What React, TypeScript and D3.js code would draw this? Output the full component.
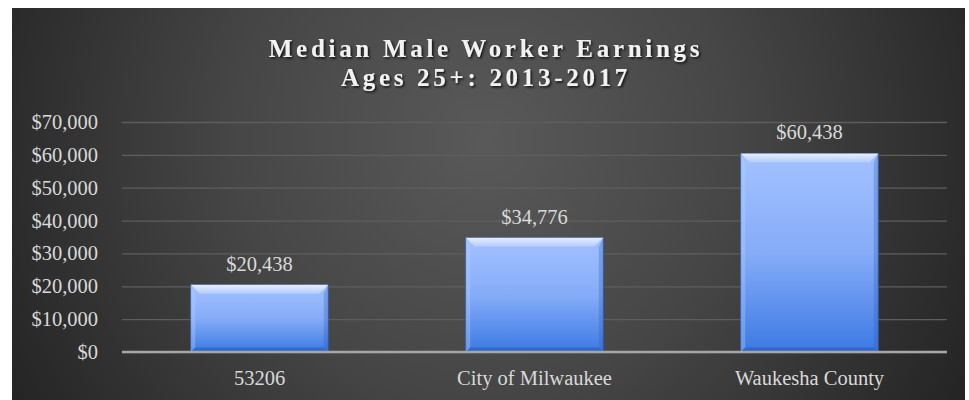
import React, { useRef, useEffect } from 'react';
import * as d3 from 'd3';

const categories = ['53206', 'City of Milwaukee', 'Waukesha County'];
const earnings = [20438, 34776, 60438];
const yTicks = [0, 10000, 20000, 30000, 40000, 50000, 60000, 70000];
const titleLines = ['Median Male Worker Earnings', 'Ages 25+: 2013-2017'];

const App = () => {
  const ref = useRef<SVGSVGElement | null>(null);

  const width = 969;
  const height = 400;

  useEffect(() => {
    if (!ref.current) return;

    const margin = { top: 122, right: 22, bottom: 48, left: 122 };
    const fmt = (v: number) => '$' + d3.format(',')(v);
    const serif = '"Liberation Serif", "Times New Roman", serif';

    const svg = d3.select(ref.current);
    svg.selectAll('*').remove();

    const defs = svg.append('defs');

    const bg = defs
      .append('radialGradient')
      .attr('id', 'bg')
      .attr('gradientUnits', 'userSpaceOnUse')
      .attr('cx', 485)
      .attr('cy', 140)
      .attr('r', 560);
    bg.append('stop').attr('offset', '0%').attr('stop-color', '#595959');
    bg.append('stop').attr('offset', '45%').attr('stop-color', '#464646');
    bg.append('stop').attr('offset', '100%').attr('stop-color', '#222222');

    const barGrad = defs
      .append('linearGradient')
      .attr('id', 'bar')
      .attr('x1', 0)
      .attr('y1', 0)
      .attr('x2', 0)
      .attr('y2', 1);
    barGrad.append('stop').attr('offset', '0%').attr('stop-color', '#a3c1ff');
    barGrad.append('stop').attr('offset', '50%').attr('stop-color', '#86acf8');
    barGrad.append('stop').attr('offset', '100%').attr('stop-color', '#3c7ae4');

    const topBevel = defs
      .append('linearGradient')
      .attr('id', 'topBevel')
      .attr('x1', 0)
      .attr('y1', 0)
      .attr('x2', 0)
      .attr('y2', 1);
    topBevel.append('stop').attr('offset', '0%').attr('stop-color', '#f2f7ff');
    topBevel.append('stop').attr('offset', '100%').attr('stop-color', '#b4ceff');

    const shadow = defs
      .append('filter')
      .attr('id', 'shadow')
      .attr('x', '-10%')
      .attr('y', '-30%')
      .attr('width', '120%')
      .attr('height', '160%');
    shadow
      .append('feDropShadow')
      .attr('dx', 1.5)
      .attr('dy', 1.5)
      .attr('stdDeviation', 1)
      .attr('flood-color', '#000')
      .attr('flood-opacity', 0.8);

    svg
      .append('rect')
      .attr('x', 12)
      .attr('y', 8)
      .attr('width', 953)
      .attr('height', 392)
      .attr('fill', 'url(#bg)');

    const title = svg
      .append('text')
      .attr('text-anchor', 'middle')
      .attr('font-family', serif)
      .attr('font-weight', 'bold')
      .attr('font-size', 25)
      .attr('letter-spacing', 3.7)
      .attr('fill', '#f2f2f2')
      .attr('filter', 'url(#shadow)');
    titleLines.forEach((t, i) =>
      title
        .append('tspan')
        .attr('x', 486)
        .attr('y', 57 + i * 29)
        .text(t)
    );

    const x = d3
      .scaleBand(categories, [margin.left, width - margin.right])
      .paddingInner(0.5)
      .paddingOuter(0.25);

    const y = d3
      .scaleLinear()
      .domain([0, 70000])
      .range([height - margin.bottom, margin.top]);

    const yAxis = svg
      .append('g')
      .attr('transform', `translate(${margin.left},0)`)
      .call(
        d3
          .axisLeft(y)
          .tickValues(yTicks)
          .tickFormat((d: any) => fmt(d))
          .tickSize(-(width - margin.left - margin.right))
          .tickPadding(24)
      );
    yAxis.select('.domain').remove();
    yAxis.selectAll('line').attr('stroke', '#5e5e5e').attr('stroke-width', 1.3);
    yAxis
      .selectAll('text')
      .attr('fill', '#d9d9d9')
      .attr('font-size', 20.5)
      .attr('font-family', serif);

    const d = 9;
    const bars = svg
      .append('g')
      .selectAll('g')
      .data(categories.map((c, i) => ({ c, v: earnings[i] })))
      .join('g');

    bars.each(function (p) {
      const g = d3.select(this);
      const bx = x(p.c) || 0;
      const bw = x.bandwidth();
      const by = y(p.v);
      const bh = y(0) - by;
      g.append('rect')
        .attr('x', bx)
        .attr('y', by)
        .attr('width', bw)
        .attr('height', bh)
        .attr('fill', 'url(#bar)')
        .attr('stroke', '#2c5aa8')
        .attr('stroke-width', 0.8);
      // bevel faces
      g.append('polygon')
        .attr(
          'points',
          [
            [bx, by],
            [bx + bw, by],
            [bx + bw - d, by + d],
            [bx + d, by + d],
          ].join(' ')
        )
        .attr('fill', 'url(#topBevel)')
        .attr('opacity', 0.85);
      g.append('polygon')
        .attr(
          'points',
          [
            [bx, by],
            [bx + d * 0.5, by + d],
            [bx + d * 0.5, by + bh - d * 0.5],
            [bx, by + bh],
          ].join(' ')
        )
        .attr('fill', '#b8d0ff')
        .attr('opacity', 0.35);
      g.append('polygon')
        .attr(
          'points',
          [
            [bx + bw, by],
            [bx + bw - d * 0.5, by + d],
            [bx + bw - d * 0.5, by + bh - d * 0.5],
            [bx + bw, by + bh],
          ].join(' ')
        )
        .attr('fill', '#2a5cb8')
        .attr('opacity', 0.3);
      g.append('polygon')
        .attr(
          'points',
          [
            [bx, by + bh],
            [bx + bw, by + bh],
            [bx + bw - d * 0.5, by + bh - d * 0.5],
            [bx + d * 0.5, by + bh - d * 0.5],
          ].join(' ')
        )
        .attr('fill', '#1f4fa8')
        .attr('opacity', 0.45);
      g.append('text')
        .attr('x', bx + bw / 2)
        .attr('y', by - 14)
        .attr('text-anchor', 'middle')
        .attr('fill', '#d9d9d9')
        .attr('font-size', 20.5)
        .attr('font-family', serif)
        .text(fmt(p.v));
    });

    svg
      .append('line')
      .attr('x1', margin.left)
      .attr('x2', width - margin.right)
      .attr('y1', y(0))
      .attr('y2', y(0))
      .attr('stroke', '#a6a6a6')
      .attr('stroke-width', 2.5);

    svg
      .append('g')
      .selectAll('text')
      .data(categories)
      .join('text')
      .attr('x', (c) => (x(c) || 0) + x.bandwidth() / 2)
      .attr('y', y(0) + 33)
      .attr('text-anchor', 'middle')
      .attr('fill', '#d9d9d9')
      .attr('font-size', 20.5)
      .attr('font-family', serif)
      .text((c) => c);
  });

  return (
    <svg
      ref={ref}
      width={width}
      height={height}
      viewBox={`0 0 ${width} ${height}`}
      style={{ position: 'absolute', left: 0, top: 0, background: '#fff' }}
    />
  );
};

export default App;
